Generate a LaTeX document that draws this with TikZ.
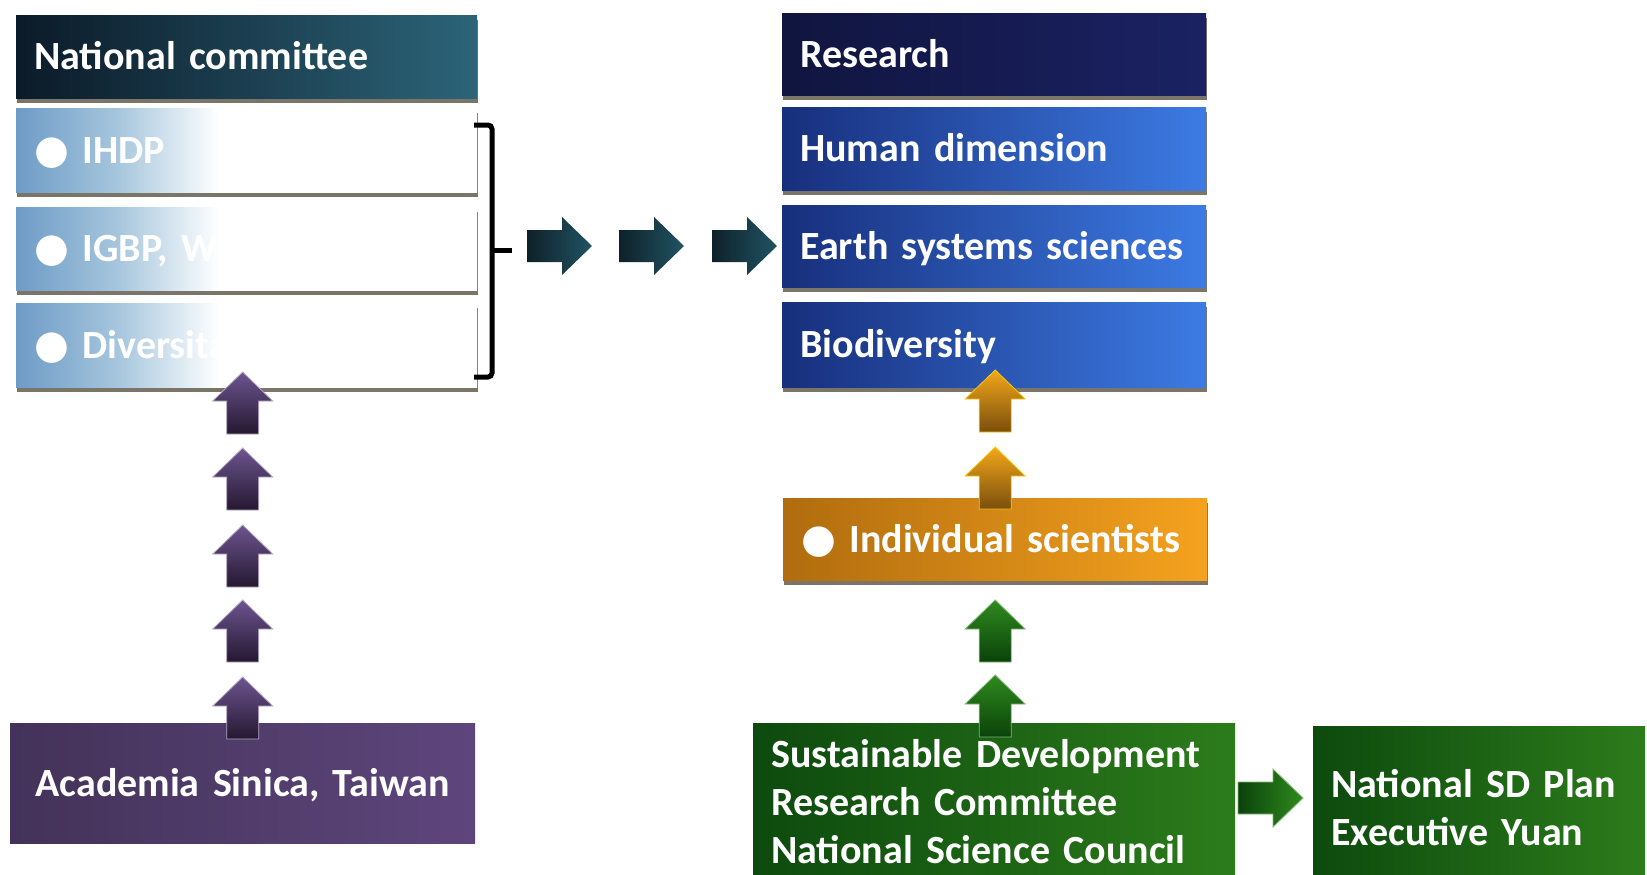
\documentclass[tikz,border=0pt]{standalone}
\usepackage{fontspec}
\setmainfont{Carlito}
\newfontfamily\symfont{DejaVu Sans}
\usetikzlibrary{shadows}

% box colours (left / right end of each shading)
\definecolor{natL}{HTML}{0B1A28}
\definecolor{natR}{HTML}{2C6478}
\definecolor{itemL}{HTML}{6E9BC6}
\definecolor{itemM}{HTML}{A6C6DD}
\definecolor{resL}{HTML}{10153F}
\definecolor{resR}{HTML}{1B2263}
\definecolor{bluL}{HTML}{172F7C}
\definecolor{bluR}{HTML}{3D7BE4}
\definecolor{orgL}{HTML}{B06C0E}
\definecolor{orgR}{HTML}{F5A21E}
\definecolor{grnL}{HTML}{0D4A0E}
\definecolor{grnR}{HTML}{2C7C1B}
\definecolor{purL}{HTML}{433259}
\definecolor{purR}{HTML}{5E467C}
\definecolor{shadowc}{HTML}{4F4638}
% arrow colours
\definecolor{tealL}{HTML}{0E2129}
\definecolor{tealR}{HTML}{215363}
\definecolor{purT}{HTML}{6D5490}
\definecolor{purB}{HTML}{251830}
\definecolor{orgT}{HTML}{F4A71A}
\definecolor{orgB}{HTML}{7A4E0C}
\definecolor{grnT}{HTML}{2F8A1E}
\definecolor{grnB}{HTML}{0A420A}

\pgfdeclarehorizontalshading{itemfade}{100bp}{color(0bp)=(itemL); color(25bp)=(itemL); color(36bp)=(itemM); color(47bp)=(white); color(100bp)=(white)}

\newcommand*{\boxfont}{\fontsize{40}{48}\selectfont\bfseries}

\begin{document}
\begin{tikzpicture}[x=1pt,y=-1pt,
	bar/.style 2 args={anchor=north west, text width=#1, minimum height=#2,
		inner xsep=18pt, inner ysep=0pt, align=left, text=white, font=\boxfont},
	oneline/.style={text height=26pt, text depth=0pt},
	shadowed/.style={drop shadow={shadow xshift=1pt, shadow yshift=-5pt, opacity=.75, fill=shadowc}},
	uparrow/.pic={\path[pic actions] (0,0) -- (30,29) -- (16,29) -- (16,62) -- (-16,62) -- (-16,29) -- (-30,29) -- cycle;},
	rightarrow/.pic={\path[pic actions] (0,0) -- (-30,29) -- (-30,16) -- (-65,16) -- (-65,-16) -- (-30,-16) -- (-30,-29) -- cycle;}]

	\clip (0,0) rectangle (1647,875);
	\fill[white] (0,0) rectangle (1647,875);

	% left column
	\node[bar={425}{83}, oneline, left color=natL, right color=natR, shadowed] (natc) at (16,15) {National committee};
	\node[bar={425}{84}, oneline, shade, shading=itemfade, shadowed] (ihdp) at (16,108) {{\symfont ●} IHDP};
	\node[bar={425}{83}, oneline, shade, shading=itemfade, shadowed] (igbp) at (16,207) {{\symfont ●} IGBP, WC};
	\node[bar={425}{84}, oneline, shade, shading=itemfade, shadowed] (divs) at (16,303) {{\symfont ●} Diversita};

	\node[bar={429}{120}, oneline, align=center, left color=purL, right color=purR] (acad) at (10,723) {Academia Sinica, Taiwan};

	% bracket
	\coordinate (brk) at (492,250);
	\draw[line width=5pt, rounded corners=4pt] (474,125) -- (492,125) -- (492,377) -- (474,377);
	\draw[line width=5pt] (brk) -- ++(20,0);

	% right column
	\node[bar={388}{82}, oneline, left color=resL, right color=resR, shadowed] (res) at (782,13) {Research};
	\node[bar={388}{83}, oneline, left color=bluL, right color=bluR, shadowed] (hum) at (782,107) {Human dimension};
	\node[bar={388}{82}, oneline, left color=bluL, right color=bluR, shadowed] (earth) at (782,205) {Earth systems sciences};
	\node[bar={388}{85}, oneline, left color=bluL, right color=bluR, shadowed] (bio) at (782,302) {Biodiversity};

	\node[bar={388}{82}, oneline, left color=orgL, right color=orgR, shadowed] (indiv) at (783,498) {{\symfont ●} Individual scientists};

	\node[bar={446}{156}, left color=grnL, right color=grnR] (sdrc) at (753,723) {Sustainable Development\\Research Committee\\National Science Council};
	\node[bar={296}{163}, left color=grnL, right color=grnR] (plan) at (1313,726) {National SD Plan\\Executive Yuan};

	% block arrows
	\foreach \x in {592,684,777}
		\pic[left color=tealL, right color=tealR] at (\x,246) {rightarrow};
	\foreach \y in {372,448,525,600,677}
		\pic[top color=purT, bottom color=purB, draw=purT!50!white, line width=.8pt] at (acad.north |- 0,\y) {uparrow};
	\foreach \y in {370,447}
		\pic[top color=orgT, bottom color=orgB, draw=orgT!60!yellow, line width=.8pt] at (indiv.north |- 0,\y) {uparrow};
	\foreach \y in {600,675}
		\pic[top color=grnT, bottom color=grnB, draw=grnT!60!white, line width=.8pt] at (indiv.south |- 0,\y) {uparrow};
	\pic[left color=grnB, right color=grnT, draw=grnT!60!white, line width=.8pt] at (1303,798) {rightarrow};

\end{tikzpicture}
\end{document}
